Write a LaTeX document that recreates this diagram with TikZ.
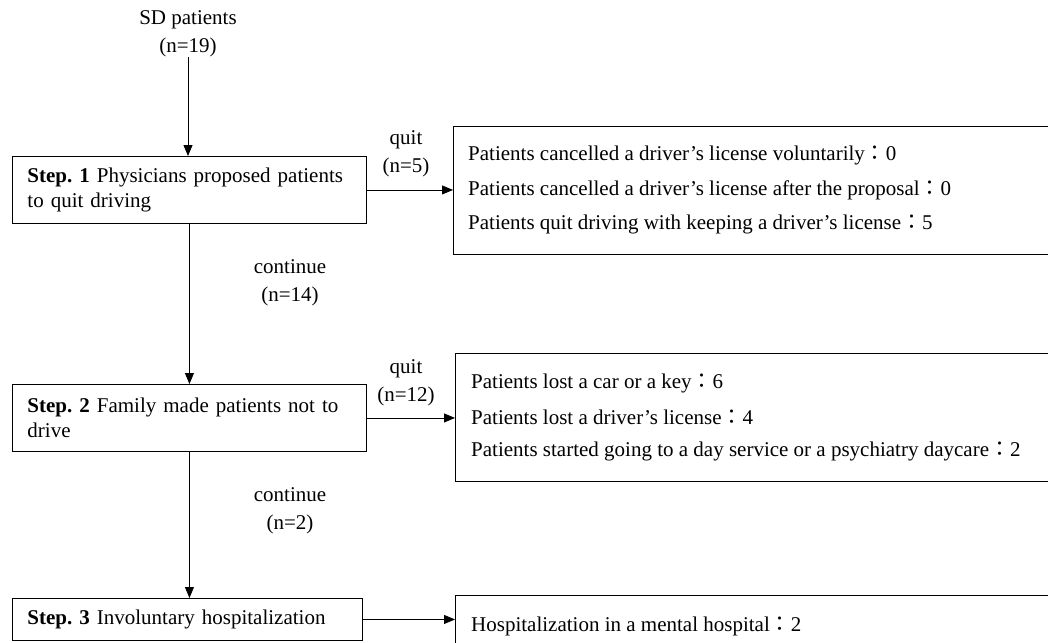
\documentclass[tikz,border=0pt]{standalone}
\usepackage{fontspec}
\setmainfont{Liberation Serif}
\newfontfamily\cjkfont{Noto Sans CJK JP}
\usetikzlibrary{arrows.meta}
\newcommand{\fcolon}{{\cjkfont ：}}
\begin{document}
\frenchspacing
\begin{tikzpicture}[x=1pt,y=-1pt,
  font=\fontsize{21}{25}\selectfont,
  box/.style={draw, line width=0.9pt, inner sep=0pt},
  stepbox/.style={box, anchor=north west, minimum height=67pt, text width=324pt, inner xsep=15pt, align=left},
  sidebox/.style={box, anchor=north west, minimum width=620pt},
  arr/.style={-{Triangle[length=11pt,width=9pt]}, line width=0.8pt},
  lbl/.style={inner sep=0pt, align=center, font=\fontsize{21}{28}\selectfont},
  item/.style={anchor=west, inner sep=0pt}]
\useasboundingbox (0,0) rectangle (1048,642);

\node[lbl] (sd) at (188,34) {SD patients\\(n=19)};

\node[stepbox] (s1) at (12,156) {\textbf{Step. 1} Physicians proposed patients to quit driving};
\node[stepbox] (s2) at (12,384) {\textbf{Step. 2} Family made patients not to drive};
\node[stepbox, minimum height=42pt, text width=320pt] (s3) at (12,598) {\textbf{Step. 3} Involuntary hospitalization};

\node[sidebox, minimum height=128pt] (r1) at (453,126) {};
\node[sidebox, minimum height=128pt] (r2) at (455,353) {};
\node[sidebox, minimum height=80pt] (r3) at (455,595) {};

\node[item] (r1a) at (468,155) {Patients cancelled a driver's license voluntarily\fcolon 0};
\node[item] (r1b) at (468,190) {Patients cancelled a driver's license after the proposal\fcolon 0};
\node[item] (r1c) at (468,224) {Patients quit driving with keeping a driver's license\fcolon 5};

\node[item] (r2a) at (471,383) {Patients lost a car or a key\fcolon 6};
\node[item] (r2b) at (471,417) {Patients lost a driver's license\fcolon 4};
\node[item] (r2c) at (471,451) {Patients started going to a day service or a psychiatry daycare\fcolon 2};

\node[item] (r3a) at (471,626) {Hospitalization in a mental hospital\fcolon 2};

\node[lbl] (q1) at (406,154) {quit\\(n=5)};
\node[lbl] (q2) at (406,383) {quit\\(n=12)};
\node[lbl] (c1) at (290,283) {continue\\(n=14)};
\node[lbl] (c2) at (290,511) {continue\\(n=2)};

\draw[arr] (sd.south) -- (sd.south |- s1.north);
\draw[arr] (s1.south) -- (s2.north);
\draw[arr] (s2.south) -- (s2.south |- s3.north);
\draw[arr] (s1.east) -- (s1.east -| r1.west);
\draw[arr] (s2.east) -- (s2.east -| r2.west);
\draw[arr] (s3.east) -- (s3.east -| r3.west);
\end{tikzpicture}
\end{document}
